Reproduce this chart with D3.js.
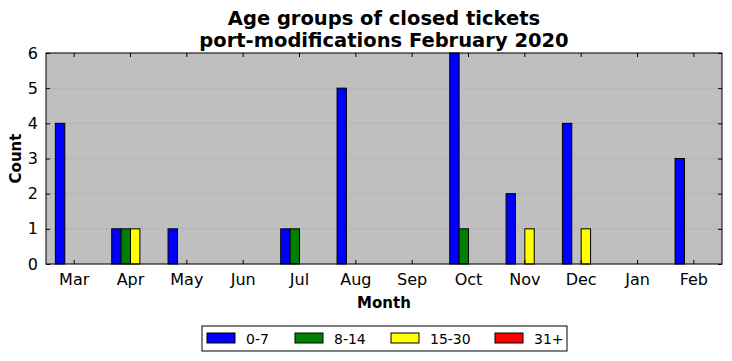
<!DOCTYPE html>
<html>
<head>
<meta charset="utf-8">
<script src="https://cdn.jsdelivr.net/npm/d3@7"></script>
<style>
  body { margin: 0; background: #fff; }
  svg, svg text { font-family: "DejaVu Sans", sans-serif; }
</style>
</head>
<body>
<div id="chart"></div>
<script>
const months = ["Mar", "Apr", "May", "Jun", "Jul", "Aug", "Sep", "Oct", "Nov", "Dec", "Jan", "Feb"];
const groups = ["0-7", "8-14", "15-30", "31+"];
const colors = ["#0000ff", "#008000", "#ffff00", "#ff0000"];
const age0to7 = [4, 1, 1, 0, 1, 5, 0, 6, 2, 4, 0, 3];
const age8to14 = [0, 1, 0, 0, 1, 0, 0, 1, 0, 0, 0, 0];
const age15to30 = [0, 1, 0, 0, 0, 0, 0, 0, 1, 1, 0, 0];
const age31plus = [0, 0, 0, 0, 0, 0, 0, 0, 0, 0, 0, 0];
const yTicks = [0, 1, 2, 3, 4, 5, 6];

const series = [age0to7, age8to14, age15to30, age31plus];

const totalW = 732, totalH = 361;
const margin = { top: 53, right: 10, bottom: 97, left: 46 };
const width = totalW - margin.left - margin.right;
const height = totalH - margin.top - margin.bottom;

const svg = d3.select("#chart").append("svg")
    .attr("width", totalW)
    .attr("height", totalH);

const g = svg.append("g").attr("transform", `translate(${margin.left},${margin.top})`);

const x = d3.scaleBand().domain(months).range([0, width]).padding(0);
const bw = x.bandwidth() / 6;
const y = d3.scaleLinear().domain([0, 6]).range([height, 0]);

g.append("rect")
    .attr("width", width).attr("height", height)
    .attr("fill", "#bfbfbf");

// dotted horizontal grid
g.selectAll(".grid")
    .data(yTicks)
    .enter().append("line")
    .attr("x1", 0).attr("x2", width)
    .attr("y1", d => y(d)).attr("y2", d => y(d))
    .attr("stroke", "#8a8a8a")
    .attr("stroke-width", 0.8)
    .attr("stroke-dasharray", "1,3");

// bars
series.forEach((vals, si) => {
    g.selectAll(".bar" + si)
        .data(vals)
        .enter().append("rect")
        .attr("x", (d, i) => x(months[i]) + x.bandwidth() / 2 - 2 * bw + si * bw)
        .attr("y", d => y(d))
        .attr("width", bw)
        .attr("height", d => height - y(d))
        .attr("fill", colors[si])
        .attr("stroke", "#000")
        .attr("stroke-width", 1);
});

// axes, ticks inward
const xAxisB = d3.axisBottom(x).tickSizeInner(-4).tickSizeOuter(0).tickPadding(10);
const xAxisT = d3.axisTop(x).tickSizeInner(-4).tickSizeOuter(0).tickFormat("");
const yAxisL = d3.axisLeft(y).tickValues(yTicks).tickFormat(d3.format("d"))
    .tickSizeInner(-4).tickSizeOuter(0).tickPadding(8);
const yAxisR = d3.axisRight(y).tickValues(yTicks).tickSizeInner(-4).tickSizeOuter(0).tickFormat("");

g.append("g").attr("transform", `translate(0,${height})`).call(xAxisB);
g.append("g").call(xAxisT);
g.append("g").call(yAxisL);
g.append("g").attr("transform", `translate(${width},0)`).call(yAxisR);

g.selectAll(".domain").remove();
g.selectAll(".tick line").attr("stroke", "#000");
g.selectAll(".tick text")
    .style("font-size", "16px")
    .style("font-family", "'DejaVu Sans', sans-serif")
    .attr("fill", "#000");

g.append("rect")
    .attr("width", width).attr("height", height)
    .attr("fill", "none").attr("stroke", "#000").attr("stroke-width", 1);

// titles
svg.append("text")
    .attr("x", margin.left + width / 2).attr("y", 25)
    .attr("text-anchor", "middle")
    .style("font-size", "19.5px").attr("font-weight", "bold")
    .text("Age groups of closed tickets");
svg.append("text")
    .attr("x", margin.left + width / 2).attr("y", 47)
    .attr("text-anchor", "middle")
    .style("font-size", "19.5px").attr("font-weight", "bold")
    .text("port-modifications February 2020");

svg.append("text")
    .attr("x", margin.left + width / 2).attr("y", 308)
    .attr("text-anchor", "middle")
    .style("font-size", "15px").attr("font-weight", "bold")
    .text("Month");

svg.append("text")
    .attr("transform", `translate(21,${margin.top + height / 2}) rotate(-90)`)
    .attr("text-anchor", "middle")
    .style("font-size", "15px").attr("font-weight", "bold")
    .text("Count");

// legend
const legend = svg.append("g").attr("transform", "translate(202,326)");
legend.append("rect")
    .attr("width", 365).attr("height", 25)
    .attr("fill", "#fff").attr("stroke", "#000").attr("stroke-width", 1);
const legendX = [5, 93, 189, 293];
groups.forEach((name, i) => {
    legend.append("rect")
        .attr("x", legendX[i]).attr("y", 7)
        .attr("width", 28).attr("height", 10)
        .attr("fill", colors[i]).attr("stroke", "#000");
    legend.append("text")
        .attr("x", legendX[i] + 39).attr("y", 17.5)
        .style("font-size", "14px")
        .text(name);
});
</script>
</body>
</html>
